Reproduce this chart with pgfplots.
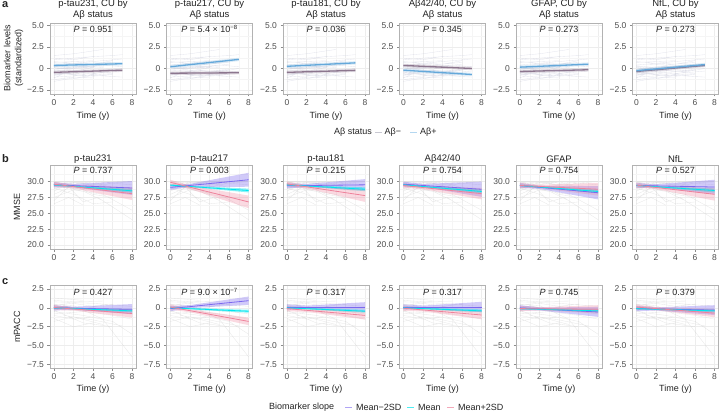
\documentclass[border=0pt]{standalone}
\usepackage{fontspec}
\setmainfont{Liberation Sans}
\usepackage{pgfplots}
\pgfplotsset{compat=1.18}
\usepackage{pgfplotstable}

\definecolor{mpur}{RGB}{123,104,238}
\definecolor{mcyan}{RGB}{0,229,238}
\definecolor{mpink}{RGB}{238,130,155}
\definecolor{abpos}{RGB}{100,168,218}
\definecolor{abneg}{RGB}{140,118,142}
\definecolor{txt}{RGB}{35,35,35}
\definecolor{ticktxt}{RGB}{77,77,77}
\definecolor{spaga}{RGB}{170,172,200}

\pgfplotsset{
  panel/.style={scale only axis, width=86pt, xmin=-0.4, xmax=8.4,
    xtick={0,2,4,6,8}, xticklabels={0,2,4,6,8}, minor xtick={1,3,5,7},
    grid=both, major grid style={draw=black!7, line width=0.45pt},
    minor grid style={draw=black!4, line width=0.3pt},
    axis line style={draw=black!30, line width=0.6pt},
    tick style={draw=black!45, line width=0.4pt},
    major tick length=2.5pt, minor tick length=0pt, tick align=outside,
    xtick pos=lower, ytick pos=left,
    tick label style={font=\fontsize{8.5}{9}\selectfont, text=ticktxt},
    unbounded coords=jump, anchor=south west},
  rowa/.style={panel, height=71pt, ymin=-2.96, ymax=5.27,
    ytick={-2.5,0,2.5,5}, yticklabels={−2.5,0,2.5,5.0}, minor ytick={-1.25,1.25,3.75}},
  rowb/.style={panel, height=84pt, ymin=19.37, ymax=32.63,
    ytick={20,22.5,25,27.5,30}, yticklabels={20.0,22.5,25.0,27.5,30.0},
    minor ytick={21.25,23.75,26.25,28.75,31.25}},
  rowc/.style={panel, height=83pt, ymin=-7.98, ymax=3.03,
    ytick={-7.5,-5,-2.5,0,2.5}, yticklabels={−7.5,−5.0,−2.5,0,2.5},
    minor ytick={-6.25,-3.75,-1.25,1.25}},
}

% background trajectories
\pgfplotstableread{
x y
0 -0.2
2 -0.3
4 0.1
nan nan
0 -1.0
3 -0.8
6 -0.6
nan nan
0 0.3
2 0.1
5 0.4
7 0.2
nan nan
0 -0.6
4 -0.4
nan nan
0 -1.3
2 -1.0
4 -1.1
nan nan
1 0.5
3 0.4
6 0.7
nan nan
0 -0.4
2 -0.7
5 -0.5
7 -0.3
nan nan
0 0.8
2 0.6
nan nan
0 -0.8
2 -0.5
4 -0.9
6 -0.7
nan nan
2 -1.2
4 -0.8
7 -1.0
nan nan
0 -0.1
5 0.2
nan nan
0 -1.5
2 -1.1
nan nan
3 -0.2
5 -0.4
7 0.0
nan nan
0 0.1
2 -0.2
4 -0.3
6 -0.1
nan nan
0 -0.7
6 -0.2
nan nan
0 0.4
2 0.6
4 0.5
6 0.9
nan nan
0 1.0
3 1.3
6 1.5
7 1.6
nan nan
0 -0.1
2 0.2
4 0.3
nan nan
0 0.7
4 0.9
nan nan
0 1.5
2 1.7
5 2.2
nan nan
1 0.0
3 0.3
5 0.1
nan nan
0 0.2
2 0.0
6 0.5
nan nan
0 1.2
2 1.0
4 1.4
nan nan
2 0.6
4 0.8
7 1.1
nan nan
0 -0.5
3 -0.3
nan nan
0 -1.1
1 -0.6
3 -0.9
5 -0.4
}\tabA

\pgfplotstableread{
x y
0 30
3 30
8 30
nan nan
0 29.8
5 30
nan nan
0 29.5
2 30
4 29.5
6 30
nan nan
0 28
1.5 29
3 28.5
5 27
8 24
nan nan
0 27
1.5 29.2
3 26.8
4.5 27.5
6 26
nan nan
0 29
2 28
4 26.5
6 26.8
nan nan
0 26.5
1.5 27.5
3 26.3
nan nan
0 30
2 29
4 29.3
7 28.5
nan nan
0 29
4 30
8 29.5
nan nan
0 28.5
2 30
5 29
nan nan
0 27.5
2 28.7
5 28
8 25.5
nan nan
0 30
2 29.5
4 28
6 27.5
nan nan
0 29.3
3 28.8
6 29.8
8 30
nan nan
0 28.8
2 29.8
4 30
6 29
nan nan
0 30
1 29
3 30
5 29.5
}\tabB

\pgfplotstableread{
x y
0 0.5
2 0.3
5 -1.5
8 -6.5
nan nan
0 -0.5
3 -1.0
6 -1.8
8 -3.5
nan nan
0 0.8
4 0.6
8 0.2
nan nan
0 -1.0
2 -1.5
4 -1.2
nan nan
0 -0.3
3 -2.0
6 -2.5
nan nan
0 0.3
4 -0.2
8 -0.8
nan nan
0 -1.8
2 -1.2
5 -2.2
nan nan
0 1.0
2 0.8
5 0.9
nan nan
0 0.0
2 -0.4
4 -0.3
7 -0.6
nan nan
0 -0.8
3 -0.5
6 -1.0
8 -1.5
nan nan
0 0.4
2 0.6
4 0.2
6 0.5
nan nan
0 -1.4
2 -2.5
4 -2.0
nan nan
0 0.2
5 -0.3
nan nan
0 -0.5
1 0.3
3 -0.2
5 0.4
nan nan
1 -1.0
4 -1.6
7 -2.4
nan nan
0 1.3
3 1.0
}\tabC

\newcommand{\spagA}{\addplot[spaga, line width=0.35pt, opacity=0.3, forget plot] table {\tabA};}
\newcommand{\spagB}{\addplot[black!25, line width=0.35pt, opacity=0.35, forget plot] table {\tabB};}
\newcommand{\spagC}{\addplot[black!25, line width=0.35pt, opacity=0.35, forget plot] table {\tabC};}
\newcommand{\band}[3]{\addplot[draw=none, fill=#1, fill opacity=#2, forget plot] coordinates {#3};}
\newcommand{\fit}[2]{\addplot[#1, line width=0.8pt, forget plot] coordinates {#2};}
\newcommand{\fita}[2]{\addplot[#1, line width=3.4pt, opacity=0.22, forget plot] coordinates {#2};
  \addplot[#1, line width=1.3pt, forget plot] coordinates {#2};}

\newcommand{\ttl}{\fontsize{9.5}{11}\selectfont}
\newcommand{\pf}{\fontsize{9}{10}\selectfont}
\newcommand{\lbl}{\fontsize{9}{11}\selectfont}

\begin{document}
\begin{tikzpicture}[x=1pt,y=1pt]
\path[use as bounding box] (0,-412) rectangle (721,0);

% ---------------- Row a ----------------
\begin{axis}[rowa, at={(50pt,-94pt)}]
\spagA
\fita{abneg}{(0,-0.45) (7,-0.2)}
\fita{abpos}{(0,0.35) (7,0.55)}
\end{axis}
\begin{axis}[rowa, at={(166.5pt,-94pt)}]
\spagA
\fita{abneg}{(0,-0.55) (7,-0.5)}
\fita{abpos}{(0,0.2) (7,1.05)}
\end{axis}
\begin{axis}[rowa, at={(283pt,-94pt)}]
\spagA
\fita{abneg}{(0,-0.45) (7,-0.22)}
\fita{abpos}{(0,0.25) (7,0.65)}
\end{axis}
\begin{axis}[rowa, at={(399.5pt,-94pt)}]
\spagA
\fita{abneg}{(0,0.35) (7,0.0)}
\fita{abpos}{(0,-0.2) (7,-0.7)}
\end{axis}
\begin{axis}[rowa, at={(516pt,-94pt)}]
\spagA
\fita{abneg}{(0,-0.35) (7,-0.15)}
\fita{abpos}{(0,0.15) (7,0.5)}
\end{axis}
\begin{axis}[rowa, at={(632.5pt,-94pt)}]
\spagA
\fita{abneg}{(0,-0.35) (7,0.35)}
\fita{abpos}{(0,-0.25) (7,0.45)}
\end{axis}

% ---------------- Row b ----------------
\begin{axis}[rowb, at={(50pt,-249pt)}]
\spagB
\band{mpur}{0.35}{(0,29.1) (2,29.1) (8,27.9) (8,30.1) (2,29.65) (0,29.9)}
\band{mcyan}{0.45}{(0,29.35) (2,29.16) (8,28.25) (8,28.85) (2,29.36) (0,29.65)}
\band{mpink}{0.3}{(0,29.2) (2,28.95) (8,27.1) (8,29.1) (2,29.5) (0,30.0)}
\fit{mpur}{(0,29.5) (8,29.0)}
\fit{mcyan}{(0,29.5) (8,28.55)}
\fit{mpink}{(0,29.6) (8,28.1)}
\end{axis}
\begin{axis}[rowb, at={(166.5pt,-249pt)}]
\spagB
\band{mpur}{0.35}{(0,28.7) (2,29.15) (8,29.2) (8,31.4) (2,29.65) (0,29.5)}
\band{mcyan}{0.45}{(0,29.3) (2,29.14) (8,28.3) (8,28.9) (2,29.34) (0,29.6)}
\band{mpink}{0.3}{(0,29.5) (2,28.85) (8,25.8) (8,27.8) (2,29.4) (0,30.3)}
\fit{mpur}{(0,29.1) (8,30.3)}
\fit{mcyan}{(0,29.45) (8,28.6)}
\fit{mpink}{(0,29.9) (8,26.8)}
\end{axis}
\begin{axis}[rowb, at={(283pt,-249pt)}]
\spagB
\band{mpur}{0.35}{(0,28.95) (2,29.14) (8,28.6) (8,30.4) (2,29.64) (0,29.75)}
\band{mcyan}{0.45}{(0,29.35) (2,29.23) (8,28.5) (8,29.1) (2,29.43) (0,29.65)}
\band{mpink}{0.3}{(0,29.25) (2,28.94) (8,26.8) (8,28.8) (2,29.44) (0,30.05)}
\fit{mpur}{(0,29.35) (8,29.5)}
\fit{mcyan}{(0,29.5) (8,28.8)}
\fit{mpink}{(0,29.65) (8,27.8)}
\end{axis}
\begin{axis}[rowb, at={(399.5pt,-249pt)}]
\spagB
\band{mpur}{0.35}{(0,29.2) (2,29.15) (8,27.6) (8,30.0) (2,29.65) (0,30.0)}
\band{mcyan}{0.45}{(0,29.35) (2,29.14) (8,28.15) (8,28.75) (2,29.34) (0,29.65)}
\band{mpink}{0.3}{(0,29.0) (2,28.83) (8,27.2) (8,29.0) (2,29.33) (0,29.8)}
\fit{mpur}{(0,29.6) (8,28.8)}
\fit{mcyan}{(0,29.5) (8,28.45)}
\fit{mpink}{(0,29.4) (8,28.1)}
\end{axis}
\begin{axis}[rowb, at={(516pt,-249pt)}]
\spagB
\band{mpur}{0.35}{(0,29.0) (2,28.86) (8,27.2) (8,29.3) (2,29.36) (0,29.8)}
\band{mcyan}{0.45}{(0,29.25) (2,29.06) (8,28.15) (8,28.75) (2,29.26) (0,29.55)}
\band{mpink}{0.3}{(0,29.0) (2,29.0) (8,27.8) (8,29.8) (2,29.5) (0,29.8)}
\fit{mpur}{(0,29.4) (8,28.25)}
\fit{mcyan}{(0,29.4) (8,28.45)}
\fit{mpink}{(0,29.4) (8,28.8)}
\end{axis}
\begin{axis}[rowb, at={(632.5pt,-249pt)}]
\spagB
\band{mpur}{0.35}{(0,29.0) (2,29.09) (8,28.0) (8,30.3) (2,29.59) (0,29.8)}
\band{mcyan}{0.45}{(0,29.25) (2,29.1) (8,28.3) (8,28.9) (2,29.3) (0,29.55)}
\band{mpink}{0.3}{(0,29.05) (2,28.84) (8,27.0) (8,29.0) (2,29.34) (0,29.85)}
\fit{mpur}{(0,29.4) (8,29.15)}
\fit{mcyan}{(0,29.4) (8,28.6)}
\fit{mpink}{(0,29.45) (8,28.0)}
\end{axis}

% ---------------- Row c ----------------
\begin{axis}[rowc, at={(50pt,-368pt)}]
\spagC
\band{mpur}{0.35}{(0,-0.35) (2,-0.25) (8,-0.85) (8,0.5) (2,0.15) (0,0.35)}
\band{mcyan}{0.45}{(0,-0.15) (2,-0.2) (8,-0.6) (8,-0.2) (2,0.0) (0,0.15)}
\band{mpink}{0.3}{(0,-0.3) (2,-0.35) (8,-1.3) (8,-0.2) (2,0.05) (0,0.4)}
\fit{mpur}{(0,0.0) (8,-0.2)}
\fit{mcyan}{(0,0.0) (8,-0.4)}
\fit{mpink}{(0,0.05) (8,-0.75)}
\end{axis}
\begin{axis}[rowc, at={(166.5pt,-368pt)}]
\spagC
\band{mpur}{0.35}{(0,-0.45) (2,-0.04) (8,0.4) (8,1.5) (2,0.36) (0,0.25)}
\band{mcyan}{0.45}{(0,-0.15) (2,-0.21) (8,-0.65) (8,-0.25) (2,-0.01) (0,0.15)}
\band{mpink}{0.3}{(0,-0.25) (2,-0.58) (8,-2.3) (8,-1.3) (2,-0.18) (0,0.45)}
\fit{mpur}{(0,-0.1) (8,0.95)}
\fit{mcyan}{(0,0.0) (8,-0.45)}
\fit{mpink}{(0,0.1) (8,-1.8)}
\end{axis}
\begin{axis}[rowc, at={(283pt,-368pt)}]
\spagC
\band{mpur}{0.35}{(0,-0.25) (2,-0.1) (8,-0.5) (8,0.75) (2,0.3) (0,0.45)}
\band{mcyan}{0.45}{(0,-0.15) (2,-0.21) (8,-0.65) (8,-0.25) (2,-0.01) (0,0.15)}
\band{mpink}{0.3}{(0,-0.45) (2,-0.53) (8,-1.55) (8,-0.45) (2,-0.13) (0,0.25)}
\fit{mpur}{(0,0.1) (8,0.1)}
\fit{mcyan}{(0,0.0) (8,-0.45)}
\fit{mpink}{(0,-0.1) (8,-1.0)}
\end{axis}
\begin{axis}[rowc, at={(399.5pt,-368pt)}]
\spagC
\band{mpur}{0.35}{(0,-0.25) (2,-0.1) (8,-0.55) (8,0.8) (2,0.3) (0,0.45)}
\band{mcyan}{0.45}{(0,-0.15) (2,-0.2) (8,-0.6) (8,-0.2) (2,0.0) (0,0.15)}
\band{mpink}{0.3}{(0,-0.4) (2,-0.48) (8,-1.5) (8,-0.4) (2,-0.08) (0,0.3)}
\fit{mpur}{(0,0.1) (8,0.1)}
\fit{mcyan}{(0,0.0) (8,-0.4)}
\fit{mpink}{(0,-0.05) (8,-0.95)}
\end{axis}
\begin{axis}[rowc, at={(516pt,-368pt)}]
\spagC
\band{mpur}{0.35}{(0,-0.35) (2,-0.34) (8,-1.2) (8,0.1) (2,0.06) (0,0.35)}
\band{mcyan}{0.45}{(0,-0.25) (2,-0.28) (8,-0.6) (8,-0.2) (2,-0.08) (0,0.05)}
\band{mpink}{0.3}{(0,-0.45) (2,-0.33) (8,-0.75) (8,0.35) (2,0.07) (0,0.25)}
\fit{mpur}{(0,0.0) (8,-0.55)}
\fit{mcyan}{(0,-0.1) (8,-0.4)}
\fit{mpink}{(0,-0.1) (8,-0.2)}
\end{axis}
\begin{axis}[rowc, at={(632.5pt,-368pt)}]
\spagC
\band{mpur}{0.35}{(0,-0.45) (2,-0.35) (8,-0.95) (8,0.35) (2,0.05) (0,0.25)}
\band{mcyan}{0.45}{(0,-0.25) (2,-0.28) (8,-0.6) (8,-0.2) (2,-0.08) (0,0.05)}
\band{mpink}{0.3}{(0,-0.25) (2,-0.3) (8,-1.25) (8,-0.15) (2,0.1) (0,0.45)}
\fit{mpur}{(0,-0.1) (8,-0.3)}
\fit{mcyan}{(0,-0.1) (8,-0.4)}
\fit{mpink}{(0,0.1) (8,-0.7)}
\end{axis}

% ---------------- Texts ----------------
\begin{scope}[every node/.style={text=txt, inner sep=0pt}]
% panel letters
\node[font=\fontsize{11}{12}\bfseries, anchor=west] at (2,-5) {a};
\node[font=\fontsize{11}{12}\bfseries, anchor=west] at (2,-159) {b};
\node[font=\fontsize{11}{12}\bfseries, anchor=west] at (2,-282) {c};
% row a titles
\node[font=\ttl, align=center] at (93,-10) {p-tau231, CU by\\Aβ status};
\node[font=\ttl, align=center] at (209.5,-10) {p-tau217, CU by\\Aβ status};
\node[font=\ttl, align=center] at (326,-10) {p-tau181, CU by\\Aβ status};
\node[font=\ttl, align=center] at (442.5,-10) {Aβ42/40, CU by\\Aβ status};
\node[font=\ttl, align=center] at (559,-10) {GFAP, CU by\\Aβ status};
\node[font=\ttl, align=center] at (675.5,-10) {NfL, CU by\\Aβ status};
% row b titles
\node[font=\ttl] at (93,-159) {p-tau231};
\node[font=\ttl] at (209.5,-159) {p-tau217};
\node[font=\ttl] at (326,-159) {p-tau181};
\node[font=\ttl] at (442.5,-159) {Aβ42/40};
\node[font=\ttl] at (559,-159) {GFAP};
\node[font=\ttl] at (675.5,-159) {NfL};
% P values
\node[font=\pf] at (93,-29) {\textit{P} = 0.951};
\node[font=\pf] at (209.5,-29) {\textit{P} = 5.4 × 10\textsuperscript{−8}};
\node[font=\pf] at (326,-29) {\textit{P} = 0.036};
\node[font=\pf] at (442.5,-29) {\textit{P} = 0.345};
\node[font=\pf] at (559,-29) {\textit{P} = 0.273};
\node[font=\pf] at (675.5,-29) {\textit{P} = 0.273};
\node[font=\pf] at (93,-170) {\textit{P} = 0.737};
\node[font=\pf] at (209.5,-170) {\textit{P} = 0.003};
\node[font=\pf] at (326,-170) {\textit{P} = 0.215};
\node[font=\pf] at (442.5,-170) {\textit{P} = 0.754};
\node[font=\pf] at (559,-170) {\textit{P} = 0.754};
\node[font=\pf] at (675.5,-170) {\textit{P} = 0.527};
\node[font=\pf] at (93,-292) {\textit{P} = 0.427};
\node[font=\pf] at (209.5,-292) {\textit{P} = 9.0 × 10\textsuperscript{−7}};
\node[font=\pf] at (326,-292) {\textit{P} = 0.317};
\node[font=\pf] at (442.5,-292) {\textit{P} = 0.317};
\node[font=\pf] at (559,-292) {\textit{P} = 0.745};
\node[font=\pf] at (675.5,-292) {\textit{P} = 0.379};
% x labels
\foreach \cx in {93, 209.5, 326, 442.5, 559, 675.5}{
  \node[font=\lbl] at (\cx,-116) {Time (y)};
  \node[font=\lbl] at (\cx,-389) {Time (y)};
}
% y labels
\node[font=\lbl, rotate=90, align=center] at (13.5,-58) {Biomarker levels\\(standardized)};
\node[font=\lbl, rotate=90] at (17,-207) {MMSE};
\node[font=\lbl, rotate=90] at (17,-327) {mPACC};
% legend a
\node[font=\lbl, anchor=west] at (334,-132) {Aβ status};
\draw[color={rgb,255:red,200;green,200;blue,210}, line width=1pt] (375,-132) -- (382,-132);
\node[font=\lbl, anchor=west] at (384.5,-132) {Aβ−};
\draw[color={rgb,255:red,180;green,215;blue,240}, line width=1pt] (410,-132) -- (417,-132);
\node[font=\lbl, anchor=west] at (420,-132) {Aβ+};
% legend c
\node[font=\lbl, anchor=west] at (269,-407) {Biomarker slope};
\draw[mpur!60, line width=0.8pt] (345,-407) -- (352,-407);
\node[font=\lbl, anchor=west] at (356,-407) {Mean−2SD};
\draw[mcyan!70, line width=0.8pt] (407,-407) -- (414,-407);
\node[font=\lbl, anchor=west] at (418,-407) {Mean};
\draw[mpink!70, line width=0.8pt] (447,-407) -- (454,-407);
\node[font=\lbl, anchor=west] at (458,-407) {Mean+2SD};
\end{scope}
\end{tikzpicture}
\end{document}
